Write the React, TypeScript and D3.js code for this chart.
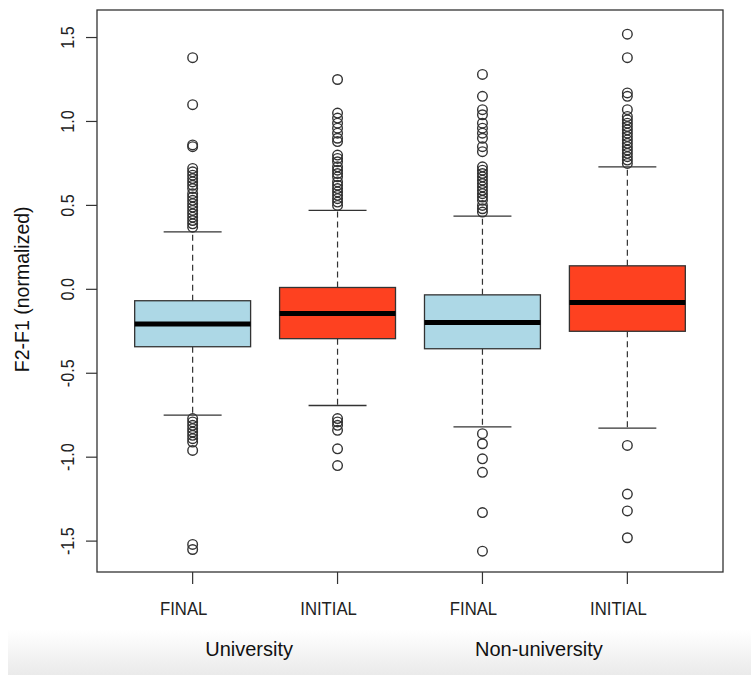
import React from "react";
import * as d3 from "d3";

// Box statistics per group (F2-F1, normalized)
const categories = ["FINAL", "INITIAL", "FINAL", "INITIAL"];
const groups = ["University", "Non-university"];
const q1 = [-0.342, -0.294, -0.354, -0.25];
const medians = [-0.207, -0.144, -0.197, -0.078];
const q3 = [-0.068, 0.011, -0.033, 0.14];
const whiskerLow = [-0.75, -0.692, -0.82, -0.827];
const whiskerHigh = [0.342, 0.47, 0.436, 0.73];
const outliers: number[][] = [
  [1.38, 1.1, 0.85, 0.86, 0.72, 0.7, 0.68, 0.66, 0.64, 0.62, 0.6, 0.57, 0.55, 0.53, 0.51, 0.49, 0.47, 0.45, 0.43, 0.41, 0.39, 0.37,
    -0.77, -0.79, -0.81, -0.83, -0.85, -0.87, -0.89, -0.91, -0.96, -1.52, -1.55],
  [1.25, 1.05, 1.02, 0.99, 0.96, 0.93, 0.9, 0.88, 0.8, 0.78, 0.76, 0.73, 0.71, 0.69, 0.67, 0.64, 0.62, 0.6, 0.58, 0.56, 0.54, 0.52, 0.5,
    -0.77, -0.79, -0.81, -0.84, -0.95, -1.05],
  [1.28, 1.15, 1.07, 1.04, 0.99, 0.96, 0.93, 0.9, 0.85, 0.82, 0.73, 0.71, 0.69, 0.67, 0.65, 0.63, 0.61, 0.59, 0.57, 0.55, 0.53, 0.5, 0.48, 0.46,
    -0.86, -0.92, -1.01, -1.09, -1.33, -1.56],
  [1.52, 1.38, 1.17, 1.15, 1.07, 1.03, 1.01, 0.99, 0.97, 0.95, 0.93, 0.91, 0.89, 0.87, 0.85, 0.83, 0.81, 0.79, 0.77, 0.75,
    -0.93, -1.22, -1.32, -1.48],
];
const yTicks = [-1.5, -1.0, -0.5, 0.0, 0.5, 1.0, 1.5];
const fills = ["#add8e6", "#fe4120", "#add8e6", "#fe4120"];

const W = 751;
const H = 675;
const font = "'Liberation Sans', Arial, Helvetica, sans-serif";

export default function App() {
  const x = d3.scaleLinear().domain([0.34, 4.66]).range([97, 723]);
  const y = d3.scaleLinear().domain([-1.684, 1.664]).range([572, 10]);
  const boxW = x(1.4) - x(0.6);
  const capW = boxW / 2;
  const ink = "#333";

  return (
    <svg width={W} height={H} style={{ position: "absolute", left: 0, top: 0, background: "#fff" }}>
      <defs>
        <linearGradient id="floor" x1="0" y1="0" x2="0" y2="1">
          <stop offset="0" stopColor="#ffffff" />
          <stop offset="1" stopColor="#eaeaea" />
        </linearGradient>
      </defs>
      <rect x={8} y={630} width={W - 8} height={H - 630} fill="url(#floor)" />

      {categories.map((c, i) => {
        const cx = x(i + 1);
        return (
          <g key={i}>
            <line x1={cx} x2={cx} y1={y(q3[i])} y2={y(whiskerHigh[i])} stroke={ink} strokeWidth={1.2} strokeDasharray="6,4" />
            <line x1={cx} x2={cx} y1={y(q1[i])} y2={y(whiskerLow[i])} stroke={ink} strokeWidth={1.2} strokeDasharray="6,4" />
            <line x1={cx - capW / 2} x2={cx + capW / 2} y1={y(whiskerHigh[i])} y2={y(whiskerHigh[i])} stroke={ink} strokeWidth={1.3} />
            <line x1={cx - capW / 2} x2={cx + capW / 2} y1={y(whiskerLow[i])} y2={y(whiskerLow[i])} stroke={ink} strokeWidth={1.3} />
            <rect x={cx - boxW / 2} y={y(q3[i])} width={boxW} height={y(q1[i]) - y(q3[i])} fill={fills[i]} stroke={ink} strokeWidth={1.3} />
            <line x1={cx - boxW / 2} x2={cx + boxW / 2} y1={y(medians[i])} y2={y(medians[i])} stroke="#000" strokeWidth={5} />
            {outliers[i].map((v, j) => (
              <circle key={j} cx={cx} cy={y(v)} r={4.8} fill="none" stroke={ink} strokeWidth={1.4} />
            ))}
          </g>
        );
      })}

      {/* plot frame */}
      <rect x={97} y={10} width={626} height={562} fill="none" stroke={ink} strokeWidth={1.3} />

      {/* y axis */}
      {yTicks.map((t) => (
        <g key={t}>
          <line x1={86} x2={97} y1={y(t)} y2={y(t)} stroke={ink} strokeWidth={1.2} />
          <text
            transform={`translate(74,${y(t)}) rotate(-90) scale(0.9,1)`}
            textAnchor="middle"
            fontFamily={font}
            fontSize={18}
            fill="#222"
          >
            {t.toFixed(1)}
          </text>
        </g>
      ))}
      <text
        transform={`translate(29,${y(0)}) rotate(-90)`}
        textAnchor="middle"
        fontFamily={font}
        fontSize={19.5}
        fill="#111"
      >
        F2-F1 (normalized)
      </text>

      {/* x axis */}
      {categories.map((c, i) => (
        <g key={i}>
          <line x1={x(i + 1)} x2={x(i + 1)} y1={572} y2={584} stroke={ink} strokeWidth={1.2} />
          <text
            transform={`translate(${x(i + 1) - 9},615) scale(0.88,1)`}
            textAnchor="middle"
            fontFamily={font}
            fontSize={19}
            fill="#222"
          >
            {c}
          </text>
        </g>
      ))}
      {groups.map((g, k) => (
        <text
          key={g}
          x={(x(2 * k + 1) + x(2 * k + 2)) / 2 - 16}
          y={656}
          textAnchor="middle"
          fontFamily={font}
          fontSize={20}
          fill="#111"
        >
          {g}
        </text>
      ))}
    </svg>
  );
}
